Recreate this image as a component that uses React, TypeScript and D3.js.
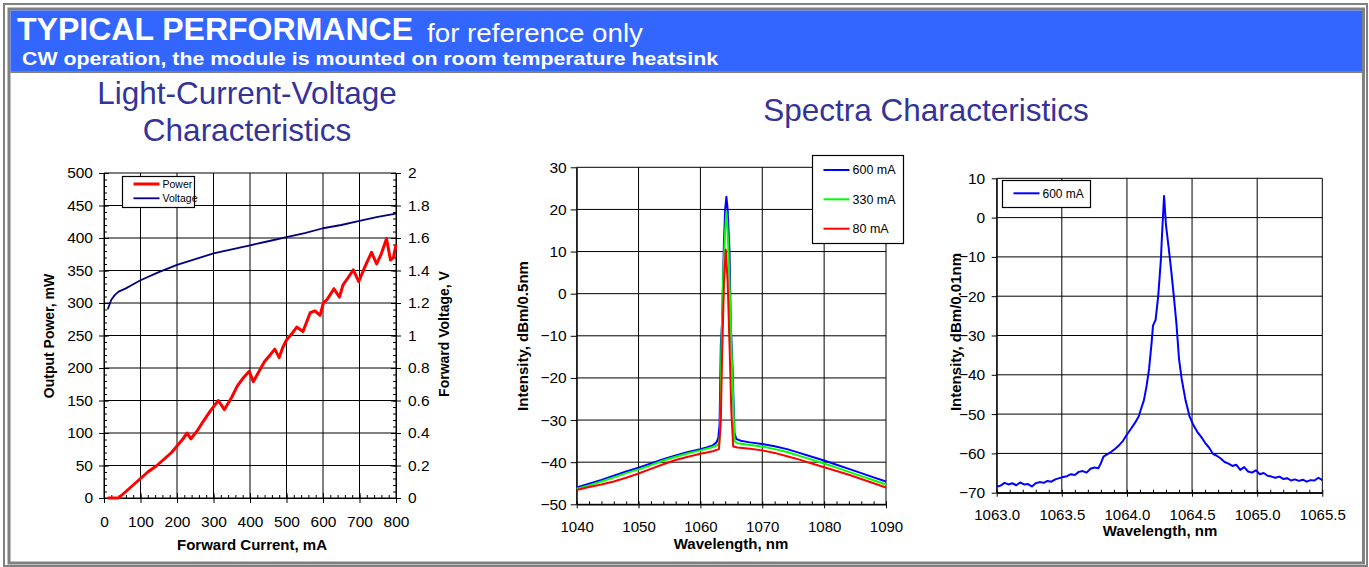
import { useEffect, useRef } from "react";
import * as d3 from "d3";

const FONT = "'Liberation Sans', Arial, sans-serif";

// Light-current-voltage
const powerCurrent = [10, 40, 70, 100, 120, 145, 165, 185, 200, 215, 228, 238, 255, 272, 290, 313, 330, 350, 365, 382, 398, 409, 425, 440, 455, 468, 480, 490, 500, 515, 528, 545, 565, 578, 592, 601, 612, 630, 645, 655, 670, 683, 698, 712, 720, 733, 747, 760, 774, 785, 793, 800];
const powerValues = [0, 0, 15, 30, 40, 50, 60, 70, 80, 90, 100, 91, 103, 118, 133, 150, 136, 155, 172, 185, 195, 179, 195, 210, 220, 229, 216, 232, 243, 253, 263, 256, 285, 288, 281, 300, 306, 322, 309, 328, 340, 351, 333, 352, 362, 378, 360, 376, 399, 366, 370, 390];
const voltageCurrent = [10, 20, 30, 40, 60, 80, 100, 150, 200, 250, 300, 350, 400, 450, 500, 550, 600, 650, 700, 750, 800];
const voltageValues = [1.16, 1.22, 1.25, 1.27, 1.29, 1.315, 1.34, 1.39, 1.435, 1.47, 1.505, 1.53, 1.555, 1.58, 1.605, 1.63, 1.66, 1.68, 1.705, 1.73, 1.75];
const currentTicks = [0, 100, 200, 300, 400, 500, 600, 700, 800];
const powerTicks = [0, 50, 100, 150, 200, 250, 300, 350, 400, 450, 500];
const voltageTicks = [0, 0.2, 0.4, 0.6, 0.8, 1, 1.2, 1.4, 1.6, 1.8, 2];

// Wide spectra, three currents
const wl600 = [1040, 1042, 1044, 1046, 1048, 1050, 1052, 1054, 1056, 1058, 1060, 1061, 1062, 1062.6, 1062.9, 1063.1, 1063.3, 1063.5, 1063.8, 1064.0, 1064.2, 1064.4, 1064.7, 1064.9, 1065.2, 1065.5, 1065.8, 1066.5, 1068, 1070, 1072, 1074, 1076, 1078, 1080, 1082, 1084, 1086, 1088, 1090];
const db600 = [-46.0, -45.1, -44.2, -43.2, -42.2, -41.3, -40.3, -39.3, -38.4, -37.6, -36.9, -36.5, -36.0, -35.3, -34.2, -31, -12, -7, 12, 20, 23, 20, 10, -7, -18, -33, -34.5, -34.9, -35.3, -35.7, -36.2, -36.9, -37.8, -38.7, -39.6, -40.6, -41.6, -42.6, -43.6, -44.6];
const wl330 = [1040, 1042, 1044, 1046, 1048, 1050, 1052, 1054, 1056, 1058, 1060, 1062, 1063.0, 1063.2, 1063.4, 1063.7, 1064.0, 1064.2, 1064.4, 1064.7, 1065.0, 1065.3, 1065.5, 1066, 1068, 1070, 1072, 1074, 1076, 1078, 1080, 1082, 1084, 1086, 1088, 1090];
const db330 = [-46.3, -45.5, -44.6, -43.6, -42.6, -41.7, -40.7, -39.6, -38.7, -37.9, -37.2, -36.4, -35.8, -33, -12, 5, 15, 19.5, 15, 3, -12, -25, -35, -35.5, -35.9, -36.3, -36.9, -37.6, -38.5, -39.4, -40.3, -41.3, -42.3, -43.3, -44.3, -45.3];
const wl80 = [1040, 1042, 1044, 1046, 1048, 1050, 1052, 1054, 1056, 1058, 1060, 1062, 1063.0, 1063.3, 1063.5, 1063.8, 1064.1, 1064.4, 1064.7, 1065.0, 1065.3, 1066, 1068, 1070, 1072, 1074, 1076, 1078, 1080, 1082, 1084, 1086, 1088, 1090];
const db80 = [-46.6, -45.9, -45.3, -44.6, -43.7, -42.7, -41.6, -40.5, -39.5, -38.7, -38.0, -37.4, -36.9, -30, -15, 2, 10.5, 3, -12, -28, -36.3, -36.5, -36.8, -37.2, -37.8, -38.6, -39.4, -40.3, -41.2, -42.1, -43.0, -44.0, -45.0, -46.0];
const wideSeries = ["600 mA", "330 mA", "80 mA"];
const wideColors = ["#0000ff", "#00ff00", "#ff0000"];
const wideTicks = [1040, 1050, 1060, 1070, 1080, 1090];
const wideDbTicks = [-50, -40, -30, -20, -10, 0, 10, 20, 30];

// Narrow spectrum, 600 mA
const narrowWl = [1063.00, 1063.03, 1063.06, 1063.09, 1063.12, 1063.15, 1063.18, 1063.21, 1063.24, 1063.27, 1063.30, 1063.33, 1063.36, 1063.39, 1063.42, 1063.45, 1063.48, 1063.51, 1063.54, 1063.57, 1063.60, 1063.63, 1063.66, 1063.69, 1063.72, 1063.75, 1063.78, 1063.80, 1063.82, 1063.85, 1063.88, 1063.91, 1063.94, 1063.97, 1064.00, 1064.03, 1064.06, 1064.09, 1064.11, 1064.13, 1064.15, 1064.17, 1064.19, 1064.20, 1064.22, 1064.24, 1064.26, 1064.27, 1064.285, 1064.30, 1064.32, 1064.34, 1064.36, 1064.38, 1064.40, 1064.42, 1064.45, 1064.48, 1064.51, 1064.54, 1064.57, 1064.60, 1064.63, 1064.66, 1064.69, 1064.72, 1064.75, 1064.78, 1064.81, 1064.84, 1064.87, 1064.90, 1064.93, 1064.96, 1064.99, 1065.02, 1065.05, 1065.08, 1065.11, 1065.14, 1065.17, 1065.20, 1065.23, 1065.26, 1065.29, 1065.32, 1065.35, 1065.38, 1065.41, 1065.44, 1065.47, 1065.50];
const narrowDb = [-68.5, -68.2, -67.5, -67.9, -67.6, -68.1, -67.4, -67.9, -67.8, -68.4, -67.6, -67.3, -67.5, -67.0, -67.2, -66.6, -66.3, -66.0, -65.8, -65.3, -65.5, -64.7, -64.5, -64.9, -63.9, -63.6, -63.8, -62.5, -60.8, -60.2, -59.6, -58.8, -57.9, -56.8, -55.2, -53.8, -52.3, -50.6, -48.5, -46.5, -43.0, -38.5, -31.6, -27.5, -26.0, -20.0, -11.0, -4.0, 5.5, -2.0, -7.5, -13.5, -20.0, -27.0, -36.0, -41.0, -46.5, -50.5, -52.8, -54.5, -55.8, -57.3, -58.5, -60.1, -60.6, -61.3, -62.2, -62.6, -63.2, -62.9, -64.2, -63.5, -64.6, -64.9, -64.3, -65.3, -65.0, -65.7, -65.9, -66.2, -65.9, -66.5, -66.3, -66.9, -66.6, -67.0, -66.7, -67.2, -66.8, -66.9, -66.2, -66.8];
const narrowTicks = [1063.0, 1063.5, 1064.0, 1064.5, 1065.0, 1065.5];
const narrowDbTicks = [-70, -60, -50, -40, -30, -20, -10, 0, 10];

type G = d3.Selection<SVGGElement, unknown, null, undefined>;
type Lin = d3.ScaleLinear<number, number>;

function styleAxis(g: G, size = 15) {
  g.attr("font-family", FONT).attr("font-size", size);
  g.select(".domain").attr("stroke", "#000");
  g.selectAll(".tick line").attr("stroke", "#000");
  g.selectAll(".tick text").attr("fill", "#000");
}

function drawGrid(g: G, x: Lin, y: Lin, xs: number[], ys: number[]) {
  const [y0, y1] = y.range();
  const [x0, x1] = x.range();
  g.append("g").selectAll("line").data(xs).join("line")
    .attr("x1", d => x(d)).attr("x2", d => x(d)).attr("y1", y0).attr("y2", y1)
    .attr("stroke", "#000").attr("stroke-width", 1);
  g.append("g").selectAll("line").data(ys).join("line")
    .attr("x1", x0).attr("x2", x1).attr("y1", d => y(d)).attr("y2", d => y(d))
    .attr("stroke", "#000").attr("stroke-width", 1);
}

function series(g: G, x: Lin, y: Lin, xs: number[], ys: number[], color: string, width: number) {
  const line = d3.line<number>().x((_, i) => x(xs[i])).y(d => y(d));
  g.append("path").attr("d", line(ys)).attr("fill", "none")
    .attr("stroke", color).attr("stroke-width", width).attr("stroke-linejoin", "round");
}

function label(g: G, text: string, x: number, y: number, size: number, rotate = false) {
  g.append("text").text(text)
    .attr("transform", rotate ? `translate(${x},${y}) rotate(-90)` : `translate(${x},${y})`)
    .attr("text-anchor", "middle").attr("font-family", FONT)
    .attr("font-weight", "bold").attr("font-size", size).attr("fill", "#000");
}

function legend(g: G, x: number, y: number, w: number, h: number, items: string[], colors: string[], rows: number[], widths: number[], size: number) {
  g.append("rect").attr("x", x).attr("y", y).attr("width", w).attr("height", h)
    .attr("fill", "#fff").attr("stroke", "#000").attr("stroke-width", 1.2);
  items.forEach((t, i) => {
    g.append("line").attr("x1", x + 11).attr("x2", x + 37).attr("y1", rows[i]).attr("y2", rows[i])
      .attr("stroke", colors[i]).attr("stroke-width", widths[i]);
    g.append("text").text(t).attr("x", x + 40).attr("y", rows[i]).attr("dy", "0.35em")
      .attr("font-family", FONT).attr("font-size", size).attr("fill", "#000");
  });
}

function drawLIV(g: G) {
  const x = d3.scaleLinear().domain([0, 800]).range([104, 396]);
  const yP = d3.scaleLinear().domain([0, 500]).range([498, 173]);
  const yV = d3.scaleLinear().domain([0, 2]).range([498, 173]);
  drawGrid(g, x, yP, currentTicks, powerTicks);

  const minorX = d3.range(0, 801, 20);
  const minorY = d3.range(0, 501, 10);
  const minorV = d3.range(0, 2.001, 0.04);

  styleAxis(g.append("g").attr("transform", "translate(0,498)")
    .call(d3.axisBottom(x).tickValues(currentTicks).tickSize(5).tickPadding(13).tickSizeOuter(0).tickFormat(d3.format("d"))), 15.5);
  styleAxis(g.append("g").attr("transform", "translate(0,498)")
    .call(d3.axisTop(x).tickValues(currentTicks).tickSize(5).tickSizeOuter(0).tickFormat(() => "")));
  styleAxis(g.append("g").attr("transform", "translate(0,498)")
    .call(d3.axisTop(x).tickValues(minorX).tickSize(3).tickSizeOuter(0).tickFormat(() => "")));

  styleAxis(g.append("g").attr("transform", "translate(104,0)")
    .call(d3.axisLeft(yP).tickValues(powerTicks).tickSize(5).tickPadding(6).tickSizeOuter(0).tickFormat(d3.format("d"))), 15.5);
  styleAxis(g.append("g").attr("transform", "translate(104,0)")
    .call(d3.axisRight(yP).tickValues(powerTicks).tickSize(5).tickSizeOuter(0).tickFormat(() => "")));
  styleAxis(g.append("g").attr("transform", "translate(104,0)")
    .call(d3.axisRight(yP).tickValues(minorY).tickSize(3).tickSizeOuter(0).tickFormat(() => "")));

  styleAxis(g.append("g").attr("transform", "translate(396,0)")
    .call(d3.axisRight(yV).tickValues(voltageTicks).tickSize(5).tickPadding(7).tickSizeOuter(0).tickFormat(d => String(d))), 15.5);
  styleAxis(g.append("g").attr("transform", "translate(396,0)")
    .call(d3.axisLeft(yV).tickValues(voltageTicks).tickSize(5).tickSizeOuter(0).tickFormat(() => "")));
  styleAxis(g.append("g").attr("transform", "translate(396,0)")
    .call(d3.axisLeft(yV).tickValues(minorV).tickSize(3).tickSizeOuter(0).tickFormat(() => "")));

  series(g, x, yV, voltageCurrent, voltageValues, "#000080", 1.8);
  series(g, x, yP, powerCurrent, powerValues, "#ff0000", 3);

  legend(g, 122.5, 176.5, 72, 31, ["Power", "Voltage"], ["#ff0000", "#000080"], [184, 198.3], [3, 1.8], 10.5);

  label(g, "Forward Current, mA", 252, 550, 15);
  label(g, "Output Power, mW", 54, 336, 14, true);
  label(g, "Forward Voltage, V", 449, 334, 14, true);
}

function drawWide(g: G) {
  const x = d3.scaleLinear().domain([1040, 1090]).range([576.7, 886]);
  const y = d3.scaleLinear().domain([-50, 30]).range([504.3, 167.3]);
  drawGrid(g, x, y, wideTicks, wideDbTicks);

  styleAxis(g.append("g").attr("transform", "translate(0,504.3)")
    .call(d3.axisBottom(x).tickValues(wideTicks).tickSize(4).tickPadding(13).tickSizeOuter(0).tickFormat(d3.format("d"))));
  styleAxis(g.append("g").attr("transform", "translate(0,504.3)")
    .call(d3.axisTop(x).tickValues(d3.range(1040, 1091, 2)).tickSize(3).tickSizeOuter(0).tickFormat(() => "")));
  styleAxis(g.append("g").attr("transform", "translate(576.7,0)")
    .call(d3.axisLeft(y).tickValues(wideDbTicks).tickSize(6).tickPadding(4).tickSizeOuter(0).tickFormat(d3.format("d"))), 15.5);

  series(g, x, y, wl600, db600, wideColors[0], 2);
  series(g, x, y, wl330, db330, wideColors[1], 2);
  series(g, x, y, wl80, db80, wideColors[2], 2);

  legend(g, 812.5, 155.5, 91, 88, wideSeries, wideColors, [170, 199.3, 228.7], [2, 2, 2], 12.5);

  label(g, "Wavelength, nm", 731, 548.5, 15);
  label(g, "Intensity, dBm/0.5nm", 528, 336, 15, true);
}

function drawNarrow(g: G) {
  const x = d3.scaleLinear().domain([1063, 1065.5]).range([996.7, 1322.3]);
  const y = d3.scaleLinear().domain([-70, 10]).range([492.7, 178.3]);
  drawGrid(g, x, y, narrowTicks, narrowDbTicks);

  styleAxis(g.append("g").attr("transform", "translate(0,492.7)")
    .call(d3.axisBottom(x).tickValues(narrowTicks).tickSize(4).tickPadding(12.5).tickSizeOuter(0).tickFormat(d3.format(".1f"))));
  styleAxis(g.append("g").attr("transform", "translate(0,492.7)")
    .call(d3.axisTop(x).tickValues(d3.range(0, 26).map(i => 1063 + i * 0.1)).tickSize(3).tickSizeOuter(0).tickFormat(() => "")));
  styleAxis(g.append("g").attr("transform", "translate(996.7,0)")
    .call(d3.axisLeft(y).tickValues(narrowDbTicks).tickSize(5).tickPadding(6.5).tickSizeOuter(0).tickFormat(d3.format("d"))), 15.5);

  series(g, x, y, narrowWl, narrowDb, "#0000ff", 2);

  legend(g, 1002.5, 180.5, 88, 27, ["600 mA"], ["#0000ff"], [193.3], [2], 12);

  label(g, "Wavelength, nm", 1160, 536, 15);
  label(g, "Intensity, dBm/0.01nm", 961, 332, 15, true);
}

export default function App() {
  const ref = useRef<SVGGElement>(null);

  useEffect(() => {
    const g = d3.select(ref.current) as unknown as G;
    g.selectAll("*").remove();
    drawLIV(g.append("g"));
    drawWide(g.append("g"));
    drawNarrow(g.append("g"));
  }, []);

  return (
    <svg width={1369} height={567} style={{ position: "absolute", left: 0, top: 0, display: "block", background: "#fff" }} fontFamily={FONT}>
      <rect x={4} y={4} width={1363} height={562} fill="none" stroke="#808080" strokeWidth={2} />
      <rect x={9} y={9} width={1354.5} height={554} fill="none" stroke="#808080" strokeWidth={3} />
      <rect x={10.5} y={10.5} width={1351.5} height={61} fill="#3366ff" />
      <line x1={10.5} x2={1362} y1={72} y2={72} stroke="#808080" strokeWidth={2} />
      <text x={17} y={40} fill="#fff" fontWeight="bold" fontSize={32} textLength={396} lengthAdjust="spacingAndGlyphs">TYPICAL PERFORMANCE</text>
      <text x={427} y={42} fill="#fff" fontSize={26} textLength={216} lengthAdjust="spacingAndGlyphs">for reference only</text>
      <text x={22} y={65} fill="#fff" fontWeight="bold" fontSize={18} textLength={696} lengthAdjust="spacingAndGlyphs">CW operation, the module is mounted on room temperature heatsink</text>
      <text x={247} y={104} fill="#333399" fontSize={31.5} textAnchor="middle">Light-Current-Voltage</text>
      <text x={247} y={141} fill="#333399" fontSize={31.5} textAnchor="middle">Characteristics</text>
      <text x={926} y={121} fill="#333399" fontSize={31.5} textAnchor="middle">Spectra Characteristics</text>
      <g ref={ref} />
    </svg>
  );
}
